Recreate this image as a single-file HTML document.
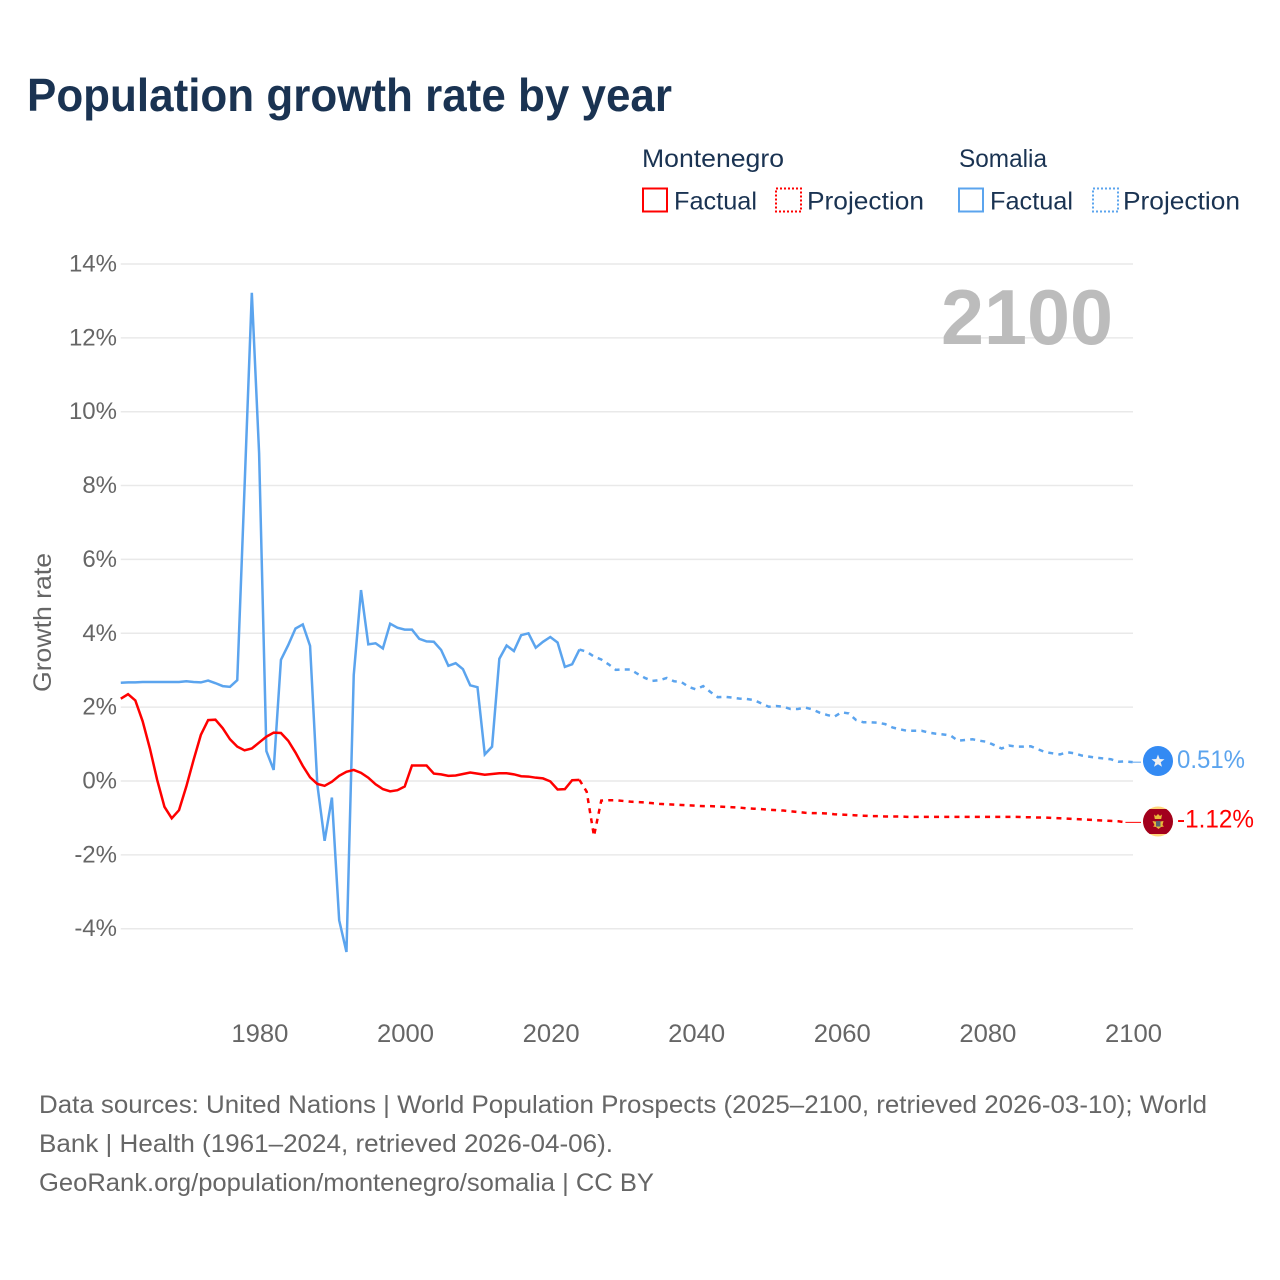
<!DOCTYPE html>
<html lang="en">
<head>
<meta charset="utf-8">
<title>Population growth rate by year</title>
<style>
html,body{margin:0;padding:0;background:#fff;}
svg{display:block;}
text{font-family:"Liberation Sans",sans-serif;}
</style>
</head>
<body>
<svg id="chart" xmlns="http://www.w3.org/2000/svg" width="1280" height="1280" viewBox="0 0 1280 1280">
  <defs>
    <clipPath id="mne-clip"><circle cx="1158" cy="821.5" r="15"/></clipPath>
  </defs>
  <rect x="0" y="0" width="1280" height="1280" fill="#fff"/>
  <text x="27" y="111" font-size="46" font-weight="700" fill="#1a3352" textLength="645" lengthAdjust="spacingAndGlyphs">Population growth rate by year</text>

  <g font-size="25" fill="#1a3352">
    <text x="642" y="167" textLength="142" lengthAdjust="spacingAndGlyphs">Montenegro</text>
    <rect x="643" y="188.5" width="24" height="23" fill="none" stroke="#ff0000" stroke-width="2"/>
    <text x="674" y="209.5" textLength="83" lengthAdjust="spacingAndGlyphs">Factual</text>
    <rect x="776" y="188.5" width="25" height="23" fill="none" stroke="#ff0000" stroke-width="2" stroke-dasharray="2,2"/>
    <text x="807" y="209.5" textLength="117" lengthAdjust="spacingAndGlyphs">Projection</text>
    <text x="959" y="167" textLength="88" lengthAdjust="spacingAndGlyphs">Somalia</text>
    <rect x="959" y="188.5" width="24" height="23" fill="none" stroke="#5ba4ee" stroke-width="2"/>
    <text x="990" y="209.5" textLength="83" lengthAdjust="spacingAndGlyphs">Factual</text>
    <rect x="1093" y="188.5" width="25" height="23" fill="none" stroke="#5ba4ee" stroke-width="2" stroke-dasharray="2,2"/>
    <text x="1123" y="209.5" textLength="117" lengthAdjust="spacingAndGlyphs">Projection</text>
  </g>

  <g id="grid"></g>
  <g id="y-axis"></g>
  <g id="x-axis"></g>
  <text transform="translate(51,622.5) rotate(-90)" text-anchor="middle" font-size="25" fill="#666" textLength="139" lengthAdjust="spacingAndGlyphs">Growth rate</text>
  <text x="941" y="344" font-size="78" font-weight="700" fill="#bcbcbc" textLength="172" lengthAdjust="spacingAndGlyphs">2100</text>

  <g id="series"></g>

  <g>
    <circle cx="1158" cy="761" r="15" fill="#338af3"/>
    <polygon fill="#f0f0f0" points="1158,754.5 1159.7,759 1164.5,759.2 1160.7,762.2 1162,766.8 1158,764.2 1154,766.8 1155.3,762.2 1151.5,759.2 1156.3,759"/>
  </g>
  <g clip-path="url(#mne-clip)">
    <rect x="1143" y="806" width="30" height="31" fill="#ffd67a"/>
    <rect x="1143" y="809" width="30" height="25" fill="#a2001d"/>
    <path d="M1154 814.5l2 1.5 2-2 2 2 2-1.5-.8 4.5h-6.4z" fill="#e8b93a"/>
    <path d="M1152.5 821l3 .5h5l3-.5-1 4 1.5 1.500-3 .5-2.500 2-2.500-2-3-.5 1.500-1.500z" fill="#e8b93a"/>
    <rect x="1156" y="821" width="4.500" height="5.500" fill="#5a6470"/>
  </g>
  <text id="label-somalia" x="1177" y="768" font-size="25" fill="#5ba4ee" textLength="68" lengthAdjust="spacingAndGlyphs"></text>
  <text id="label-montenegro" x="1177" y="827.500" font-size="25" fill="#ff0000" textLength="77" lengthAdjust="spacingAndGlyphs"></text>

  <g font-size="25" fill="#666">
    <text x="39" y="1113" textLength="1168" lengthAdjust="spacingAndGlyphs">Data sources: United Nations | World Population Prospects (2025–2100, retrieved 2026-03-10); World</text>
    <text x="39" y="1152" textLength="574" lengthAdjust="spacingAndGlyphs">Bank | Health (1961–2024, retrieved 2026-04-06).</text>
    <text x="39" y="1191" textLength="615" lengthAdjust="spacingAndGlyphs">GeoRank.org/population/montenegro/somalia | CC BY</text>
  </g>
</svg>
<script>
const firstYear = 1961;
const lastFactualYear = 2024;
const yTicks = [-4, -2, 0, 2, 4, 6, 8, 10, 12, 14];
const xTicks = [1980, 2000, 2020, 2040, 2060, 2080, 2100];
const somaliaValues = [
  2.66,2.67,2.67,2.68,2.68,2.68,2.68,2.68,2.68,2.70,
  2.68,2.67,2.72,2.65,2.57,2.55,2.73,7.95,13.22,8.88,
  0.81,0.30,3.28,3.68,4.13,4.24,3.66,-0.10,-1.62,-0.45,
  -3.77,-4.63,2.87,5.17,3.70,3.73,3.59,4.26,4.15,4.10,
  4.10,3.85,3.78,3.77,3.55,3.12,3.19,3.03,2.59,2.54,
  0.72,0.93,3.31,3.67,3.52,3.95,4.00,3.61,3.77,3.90,
  3.75,3.09,3.16,3.56,
  3.50,3.37,3.29,3.16,3.01,3.02,3.02,2.90,2.79,2.71,
  2.73,2.79,2.70,2.68,2.55,2.48,2.57,2.41,2.27,2.28,
  2.26,2.23,2.22,2.19,2.10,2.01,2.03,2.01,1.95,1.95,
  1.99,1.94,1.85,1.79,1.74,1.86,1.83,1.65,1.59,1.59,
  1.58,1.54,1.45,1.40,1.36,1.36,1.36,1.31,1.28,1.26,
  1.23,1.09,1.11,1.13,1.09,1.06,0.97,0.88,0.96,0.93,
  0.93,0.94,0.86,0.78,0.75,0.72,0.78,0.75,0.69,0.66,
  0.63,0.61,0.59,0.52,0.53,0.51
];
const montenegroValues = [
  2.23,2.35,2.18,1.62,0.88,0.03,-0.70,-1.01,-0.79,-0.15,
  0.57,1.25,1.65,1.66,1.43,1.13,0.93,0.83,0.88,1.04,
  1.20,1.31,1.30,1.09,0.77,0.41,0.10,-0.08,-0.13,-0.02,
  0.14,0.25,0.30,0.22,0.09,-0.09,-0.22,-0.28,-0.25,-0.15,
  0.42,0.42,0.42,0.20,0.18,0.14,0.15,0.19,0.23,0.20,
  0.17,0.19,0.21,0.21,0.18,0.13,0.12,0.09,0.07,-0.01,
  -0.23,-0.22,0.02,0.03,
  -0.29,-1.49,-0.53,-0.52,-0.52,-0.54,-0.56,-0.57,-0.58,-0.60,
  -0.62,-0.63,-0.64,-0.65,-0.66,-0.67,-0.68,-0.68,-0.69,-0.70,
  -0.71,-0.72,-0.74,-0.75,-0.76,-0.78,-0.79,-0.80,-0.82,-0.84,
  -0.86,-0.87,-0.87,-0.88,-0.90,-0.91,-0.92,-0.93,-0.94,-0.95,
  -0.95,-0.96,-0.96,-0.96,-0.97,-0.97,-0.97,-0.97,-0.97,-0.97,
  -0.97,-0.97,-0.97,-0.97,-0.97,-0.97,-0.97,-0.97,-0.97,-0.97,
  -0.98,-0.98,-0.99,-0.99,-1.00,-1.01,-1.02,-1.03,-1.04,-1.05,
  -1.06,-1.07,-1.08,-1.09,-1.12
];

const svgNS = 'http://www.w3.org/2000/svg';
function xScale(year) { return 1132.7 - (2100 - year) * 7.28; }
function yScale(v) { return 781 - v * 36.93; }
function mk(tag, attrs) {
  const el = document.createElementNS(svgNS, tag);
  for (const k in attrs) el.setAttribute(k, attrs[k]);
  return el;
}
function pathFor(values, fromYear, toYear) {
  let d = '';
  for (let year = fromYear; year <= toYear && year - firstYear < values.length; year++) {
    const v = values[year - firstYear];
    d += (d ? 'L' : 'M') + xScale(year).toFixed(2) + ' ' + yScale(v).toFixed(2);
  }
  return d;
}

const grid = document.getElementById('grid');
const yAxis = document.getElementById('y-axis');
yTicks.forEach(function (t) {
  const line = mk('line', {x1: xScale(firstYear), x2: 1133, y1: yScale(t), y2: yScale(t), stroke: '#e9e9e9', 'stroke-width': 1.5});
  
  
  grid.appendChild(line);
  const label = mk('text', {x: 117, y: yScale(t) + 7.5, 'text-anchor': 'end', 'font-size': 24, fill: '#666'});
  
  
  label.textContent = t + '%';
  yAxis.appendChild(label);
});

const xAxis = document.getElementById('x-axis');
xTicks.forEach(function (t) {
  const label = mk('text', {x: xScale(t) + 0.8, y: 1042, 'text-anchor': 'middle', 'font-size': 25, fill: '#666', textLength: 57, lengthAdjust: 'spacingAndGlyphs'});
  
  
  label.textContent = t;
  xAxis.appendChild(label);
});

const seriesGroup = document.getElementById('series');
function drawSeries(values, color, key) {
  const lastYear = firstYear + values.length - 1;
  const factual = mk('path', {d: pathFor(values, firstYear, lastFactualYear), fill: 'none', stroke: color, 'stroke-width': 2.5});
  
  
  seriesGroup.appendChild(factual);
  const projection = mk('path', {d: pathFor(values, lastFactualYear, lastYear), fill: 'none', stroke: color, 'stroke-width': 2.5, 'stroke-dasharray': '5,5.2'});
  
  
  seriesGroup.appendChild(projection);
  const endY = yScale(values[values.length - 1]);
  const leader = mk('line', {x1: xScale(lastYear), x2: 1141, y1: endY, y2: endY, stroke: color, 'stroke-width': 1});
  
  
  seriesGroup.appendChild(leader);
}
drawSeries(somaliaValues, '#5ba4ee', 'somalia');
drawSeries(montenegroValues, '#ff0000', 'montenegro');

document.getElementById('label-somalia').textContent = somaliaValues[somaliaValues.length - 1].toFixed(2) + '%';
document.getElementById('label-montenegro').textContent = montenegroValues[montenegroValues.length - 1].toFixed(2) + '%';
</script>
</body>
</html>
